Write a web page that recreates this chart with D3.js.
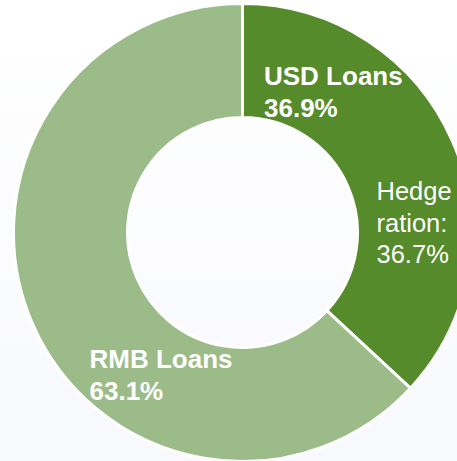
<!DOCTYPE html>
<html>
<head>
<meta charset="utf-8">
<script src="https://cdn.jsdelivr.net/npm/d3@7"></script>
<style>
  html, body { margin: 0; padding: 0; background: #fff; }
  svg { display: block; }
</style>
</head>
<body>
<svg id="chart"></svg>
<script>
// data
var categories = ["USD Loans", "RMB Loans"];
var shares = [36.9, 63.1];
var hedgeLabel = ["Hedge", "ration:", "36.7%"];

var WIDTH = 457, HEIGHT = 461;
var CX = 242.5, CY = 232.5;
var OUTER = 229, INNER = 115;
var COLORS = ["#568b2b", "#9bbb89"];

var svg = d3.select("#chart").attr("width", WIDTH).attr("height", HEIGHT);

// background gradient (light, slightly bluish at the bottom)
var grad = svg.append("defs").append("linearGradient")
  .attr("id", "bg").attr("x1", 0).attr("y1", 0).attr("x2", 0).attr("y2", 1);
grad.append("stop").attr("offset", "0%").attr("stop-color", "#ffffff");
grad.append("stop").attr("offset", "100%").attr("stop-color", "#f8f9fd");
svg.append("rect").attr("width", WIDTH).attr("height", HEIGHT).attr("fill", "url(#bg)");

var pie = d3.pie().sort(null).value(function(d){ return d; });
var arc = d3.arc().innerRadius(INNER).outerRadius(OUTER);
var arcs = pie(shares);

var g = svg.append("g").attr("transform", "translate(" + CX + "," + CY + ")");

g.selectAll("path.slice")
  .data(arcs)
  .enter().append("path")
  .attr("class", "slice")
  .attr("d", arc)
  .attr("fill", function(d, i){ return COLORS[i]; })
  .attr("stroke", "#ffffff")
  .attr("stroke-width", 3)
  .attr("stroke-linejoin", "miter");

// slice labels
var FONT = "'Liberation Sans', Arial, Helvetica, sans-serif";
var labelPos = [
  {x: 21.5, y: -147.5},   // USD Loans
  {x: -153, y: 135.8}     // RMB Loans
];
var LINE = 31.5;

arcs.forEach(function(d, i){
  var t = g.append("text")
    .attr("x", labelPos[i].x)
    .attr("y", labelPos[i].y)
    .attr("fill", "#ffffff")
    .style("font-family", FONT)
    .style("font-weight", "bold")
    .style("font-size", "26px");
  t.append("tspan").attr("x", labelPos[i].x).attr("dy", 0).text(categories[i]);
  t.append("tspan").attr("x", labelPos[i].x).attr("dy", LINE).text(d3.format(".1f")(d.data) + "%");
});

// hedge ratio note inside the USD slice
var ht = g.append("text")
  .attr("x", 134)
  .attr("y", -32.5)
  .attr("fill", "#ffffff")
  .style("font-family", FONT)
  .style("font-size", "25.5px");
hedgeLabel.forEach(function(s, i){
  ht.append("tspan").attr("x", 134).attr("dy", i == 0 ? 0 : LINE).text(s);
});
</script>
</body>
</html>
